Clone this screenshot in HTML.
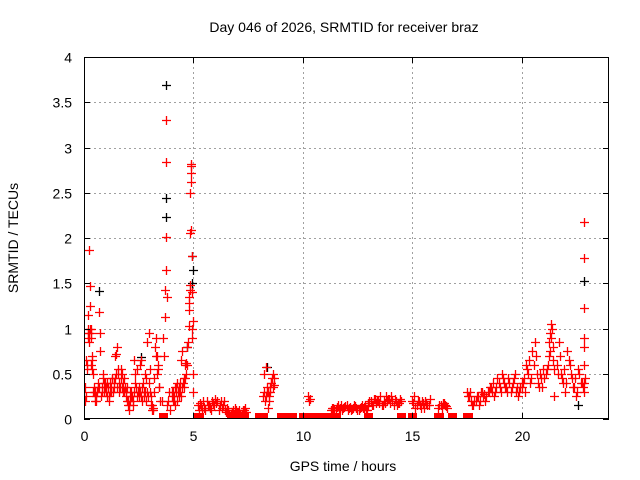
<!DOCTYPE html>
<html><head><meta charset="utf-8"><style>
html,body{margin:0;padding:0;background:#fff;}
svg{display:block;font-family:"Liberation Sans",sans-serif;}
</style></head><body>
<svg id="chart" width="640" height="480" viewBox="0 0 640 480">
<defs><clipPath id="pc"><rect x="84" y="57" width="525" height="362"/></clipPath></defs>
<text x="344" y="32" font-size="14" text-anchor="middle">Day 046 of 2026, SRMTID for receiver braz</text>
<text x="343" y="471" font-size="14" text-anchor="middle">GPS time / hours</text>
<text x="18" y="238" font-size="14" text-anchor="middle" transform="rotate(-90 18 238)">SRMTID / TECUs</text>
<g id="grid"></g>
<g id="marks" clip-path="url(#pc)"></g>
<g id="axes"></g>
</svg>
<script>
const xTicks=[0,5,10,15,20];
const yTicks=[0,0.5,1,1.5,2,2.5,3,3.5,4];
const yTickLabels=["0","0.5","1","1.5","2","2.5","3","3.5","4"];
const segTimes=[
[0.02,0.06,0.1,0.14,0.18,0.2,0.22,0.24,0.26,0.28,0.3,0.32,0.35,0.38,0.42,0.46,0.5,0.55,0.6,0.65,0.7,0.72,0.75,0.8,0.85,0.9,0.95],
[1.0,1.05,1.1,1.15,1.2,1.25,1.3,1.35,1.4,1.45,1.5,1.55,1.6,1.65,1.7,1.75,1.8,1.85,1.9,1.95],
[2.0,2.05,2.1,2.15,2.2,2.25,2.3,2.35,2.4,2.45,2.5,2.55,2.6,2.65,2.7,2.75,2.8,2.85,2.9,2.98],
[3.0,3.05,3.1,3.15,3.2,3.25,3.3,3.35,3.4,3.45],
[3.55,3.6,3.65,3.7,3.72,3.74,3.75,3.76,3.77,3.78,3.8,3.85,3.9,3.95],
[4.0,4.05,4.1,4.15,4.2,4.25,4.3,4.35,4.4,4.45,4.5,4.55,4.6,4.65,4.7,4.75],
[4.78,4.8,4.81,4.82,4.83,4.84,4.85,4.86,4.87,4.88,4.89,4.9,4.91,4.92,4.93,4.94,4.95,4.96,4.98,5.0],
[5.2,5.3,5.4,5.5,5.6,5.7,5.8,5.9,6.0,6.1,6.2,6.3,6.4,6.5,6.6,6.7,6.8,6.9,7.0,7.1,7.2,7.3,7.4],
[8.2,8.25,8.3,8.35,8.4,8.45,8.5,8.55,8.6,8.65,8.7],
[10.25,10.3,10.35],
[11.3,11.4,11.5,11.6,11.7,11.8,11.9,12.0,12.1,12.2,12.3,12.4,12.5,12.6,12.7,12.8,12.9,13.0],
[13.0,13.1,13.2,13.3,13.4,13.5,13.6,13.7,13.8,13.9,14.0,14.1,14.2,14.3,14.4,14.5],
[15.0,15.1,15.2,15.3,15.4,15.5,15.6,15.7,15.8],
[16.2,16.3,16.4,16.5,16.6],
[17.5,17.6,17.7,17.8,17.9,18.0,18.1,18.2,18.3,18.4,18.5,18.6,18.7,18.8,18.9,19.0,19.1,19.2,19.3,19.4,19.5,19.6,19.7,19.8,19.9,20.0],
[20.0,20.1,20.2,20.3,20.4,20.5,20.6,20.7,20.8,20.9,21.0,21.1,21.2],
[21.25,21.3,21.35,21.4,21.45,21.5],
[21.6,21.7,21.8,21.9,22.0,22.1,22.2,22.3,22.4,22.5,22.6,22.7,22.8,22.9],
[22.85,22.85,22.85,22.85,22.85,22.85,22.85],
[0.04,0.08,0.12,0.16,0.19,0.23,0.27,0.31,0.34,0.37,0.41,0.45,0.48,0.52,0.57,0.62,0.67,0.77,0.82,0.87,0.92,0.97],
[1.02,1.07,1.12,1.17,1.22,1.27,1.32,1.37,1.42,1.47,1.52,1.57,1.62,1.67,1.72,1.77,1.82,1.87,1.92,1.97],
[2.02,2.07,2.12,2.17,2.22,2.27,2.32,2.37,2.42,2.47,2.52,2.57,2.62,2.67,2.72,2.77,2.82,2.87,2.92,2.96],
[3.02,3.07,3.12,3.17,3.22,3.27,3.32,3.37,3.42,3.47],
[4.02,4.07,4.12,4.17,4.22,4.27,4.32,4.37,4.42,4.47,4.52,4.57,4.62,4.67,4.72],
[5.25,5.35,5.45,5.55,5.65,5.75,5.85,5.95,6.05,6.15,6.25,6.35,6.45,6.55,6.65,6.75,6.85,6.95,7.05,7.15,7.25,7.35],
[8.22,8.27,8.32,8.37,8.42,8.47,8.52,8.57,8.62,8.67],
[11.35,11.45,11.55,11.65,11.75,11.85,11.95,12.05,12.15,12.25,12.35,12.45,12.55,12.65,12.75,12.85,12.95],
[13.05,13.15,13.25,13.35,13.45,13.55,13.65,13.75,13.85,13.95,14.05,14.15,14.25,14.35,14.45],
[15.05,15.15,15.25,15.35,15.45,15.55,15.65,15.75],
[16.25,16.35,16.45,16.55],
[17.55,17.65,17.75,17.85,17.95,18.05,18.15,18.25,18.35,18.45,18.55,18.65,18.75,18.85,18.95,19.05,19.15,19.25,19.35,19.45,19.55,19.65,19.75,19.85,19.95],
[20.05,20.15,20.25,20.35,20.45,20.55,20.65,20.75,20.85,20.95,21.05,21.15],
[21.27,21.32,21.37,21.42,21.47],
[21.65,21.75,21.85,21.95,22.05,22.15,22.25,22.35,22.45,22.55,22.65,22.75,22.85]
];
const segValues=[
[.3,.2,.65,.6,1.0,1.15,.95,1.87,1.47,1.25,.9,1.0,.65,.7,.5,.3,.25,.2,.3,.35,1.18,.95,.75,.3,.45,.4,.35],
[.3,.25,.35,.2,.4,.3,.45,.35,.7,.72,.8,.5,.4,.35,.55,.5,.4,.3,.25,.35],
[.15,.1,.2,.3,.25,.15,.65,.5,.55,.3,.25,.6,.65,.35,.4,.25,.3,.2,.85,.95],
[.55,.15,.1,.12,.3,.8,.9,.7,.6,.35],
[.2,.9,.7,1.13,1.42,1.65,2.01,2.84,3.3,1.35,.15,.2,.3,.1],
[.25,.3,.2,.15,.35,.4,.3,.25,.4,.65,.75,.45,.6,.62,.8,.85],
[1.03,1.2,1.28,1.35,1.42,1.48,2.05,2.5,2.62,2.72,2.8,2.82,2.09,1.8,1.4,1.0,.9,.5,.3,1.08],
[.15,.18,.1,.12,.2,.15,.1,.18,.22,.2,.15,.12,.2,.08,.1,.05,.1,.12,.08,.1,.05,.1,.08],
[.25,.5,.58,.3,.12,.2,.35,.4,.45,.5,.38],
[.25,.2,.22],
[.1,.12,.1,.15,.12,.1,.13,.15,.12,.1,.12,.14,.1,.12,.15,.12,.1,.14],
[.18,.2,.15,.22,.2,.18,.15,.2,.25,.22,.18,.2,.22,.15,.18,.2],
[.2,.25,.15,.2,.12,.18,.2,.15,.22],
[.12,.15,.18,.15,.12],
[.3,.25,.2,.15,.2,.25,.2,.3,.28,.25,.3,.35,.4,.3,.45,.35,.5,.4,.35,.45,.3,.4,.5,.35,.3,.4],
[.35,.45,.6,.5,.4,.75,.85,.5,.35,.45,.55,.5,.6],
[.7,.95,1.05,1.0,.8,.25],
[.6,.85,.5,.4,.3,.75,.6,.45,.35,.25,.55,.4,.35,.45],
[2.18,1.78,1.23,.9,.8,.6,.4],
[.35,.25,.55,.95,.9,.85,1.0,.6,.95,.55,.3,.35,.2,.3,.25,.4,.35,.25,.35,.5,.3,.4],
[.35,.4,.25,.3,.35,.45,.3,.4,.45,.5,.35,.55,.3,.45,.35,.3,.45,.35,.3,.2],
[.2,.15,.3,.25,.2,.3,.4,.35,.25,.3,.35,.3,.25,.2,.3,.5,.45,.3,.25,.4],
[.3,.25,.15,.1,.45,.7,.5,.55,.35,.2],
[.3,.2,.25,.35,.3,.2,.35,.3,.25,.35,.4,.35,.45,.5,.6],
[.1,.15,.2,.1,.15,.12,.2,.15,.18,.1,.2,.15,.1,.12,.05,.08,.05,.1,.08,.05,.1,.12],
[.3,.2,.25,.35,.3,.25,.3,.4,.35,.45],
[.12,.1,.13,.1,.15,.12,.14,.1,.13,.11,.15,.12,.1,.13,.12,.15,.1],
[.2,.15,.22,.18,.2,.25,.15,.18,.2,.22,.25,.15,.2,.18,.22],
[.18,.12,.2,.15,.2,.12,.18,.15],
[.15,.12,.18,.14],
[.25,.3,.15,.2,.25,.15,.3,.25,.2,.3,.35,.3,.25,.35,.4,.3,.45,.35,.3,.4,.35,.45,.3,.25,.35],
[.4,.3,.55,.65,.45,.6,.7,.4,.5,.35,.45,.55],
[.85,.75,.9,.65,.55],
[.5,.7,.45,.55,.4,.65,.5,.35,.45,.3,.5,.4,.3]
];
const zeroTimes=[3.6,5.2,5.25,6.7,7.0,7.3,8.0,8.1,8.2,9.0,9.2,9.4,9.5,10.0,10.1,10.2,10.3,10.4,10.5,10.6,10.7,10.8,10.9,11.0,11.1,11.2,11.3,11.4,11.5,13.0,14.5,15.0,16.2,16.25,16.8,17.5,17.55];
const blackTimes=[0.7,3.77,3.75,3.74,4.96,4.95,4.93,8.35,22.85,22.6,2.6,4.7];
const blackValues=[1.41,3.69,2.44,2.23,1.65,1.8,1.5,0.58,1.52,0.15,0.68,0.8];

const L=84,R=609,T=57,B=419,XMAX=24,YMAX=4;
const sx=v=>L+(v/XMAX)*(R-L);
const sy=v=>B-(v/YMAX)*(B-T);
const NS="http://www.w3.org/2000/svg";
function mk(tag,attrs,parent){const e=document.createElementNS(NS,tag);for(const k in attrs)e.setAttribute(k,attrs[k]);parent.appendChild(e);return e;}
const grid=document.getElementById('grid'),axes=document.getElementById('axes'),marks=document.getElementById('marks');
xTicks.forEach(v=>{
  const x=Math.round(sx(v))+0.5;
  if(v>0){const g=mk('line',{x1:x,y1:T,x2:x,y2:B,stroke:'#a0a0a0','stroke-dasharray':'2,3'},grid);
  
  }
  mk('line',{x1:x,y1:B,x2:x,y2:B-6,stroke:'#000'},axes);
  mk('line',{x1:x,y1:T,x2:x,y2:T+6,stroke:'#000'},axes);
  const t=mk('text',{x:x,y:B+22,'font-size':14,'text-anchor':'middle'},axes);t.textContent=String(v);
  
  
});
yTicks.forEach((v,i)=>{
  const y=Math.round(sy(v))+0.5;
  if(v>0&&v<YMAX){const g=mk('line',{x1:L,y1:y,x2:R,y2:y,stroke:'#a0a0a0','stroke-dasharray':'2,3'},grid);
  
  }
  mk('line',{x1:L,y1:y,x2:L+6,y2:y,stroke:'#000'},axes);
  mk('line',{x1:R,y1:y,x2:R-6,y2:y,stroke:'#000'},axes);
  const t=mk('text',{x:L-12,y:y+5,'font-size':14,'text-anchor':'end'},axes);t.textContent=yTickLabels[i];
  
  
});
const fr=mk('rect',{x:L+0.5,y:T+0.5,width:R-L-1,height:B-T-1,fill:'none',stroke:'#000'},axes);


function plus(t,v,color,name){
  const x=Math.round(sx(t))+0.5,y=Math.round(sy(v))+0.5;
  const p=mk('path',{d:`M${x-4.5} ${y}H${x+4.5}M${x} ${y-4.5}V${y+4.5}`,stroke:color,'stroke-width':1.3,fill:'none'},marks);
  
  
}
blackTimes.forEach((t,i)=>plus(t,blackValues[i],'#000','black-point'));
segTimes.forEach((ts,s)=>{const vs=segValues[s];const n=Math.min(ts.length,vs.length);for(let i=0;i<n;i++)plus(ts[i],vs[i],'#f00','red-point');});
zeroTimes.forEach(t=>{
  const x=Math.round(sx(t)),y=Math.round(sy(0));
  const r=mk('rect',{x:x-4,y:y-6,width:9,height:6,fill:'#f00'},marks);
  
  
});
</script>
</body></html>
